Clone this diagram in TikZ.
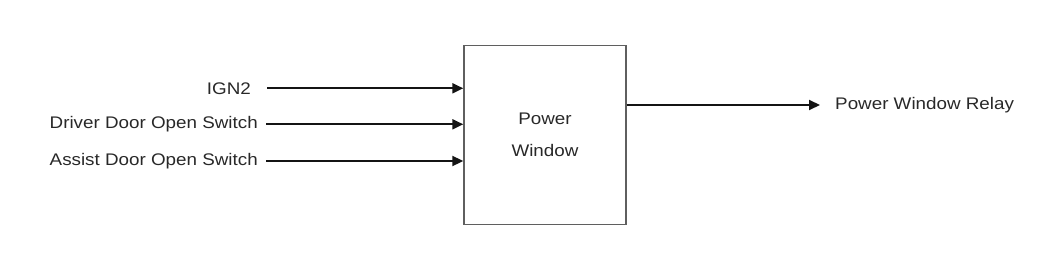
\documentclass[tikz,border=0pt]{standalone}
\usepackage{fontspec}
\usepackage{graphicx}
\setmainfont{Liberation Sans}
\usetikzlibrary{arrows.meta,positioning}
\definecolor{wireink}{RGB}{20,20,20}
\definecolor{boxgray}{RGB}{95,95,95}
\definecolor{textgray}{RGB}{40,40,40}
\newcommand{\widen}[1]{\scalebox{1.12}[1]{#1}}
\tikzset{
  block/.style={draw=boxgray,line width=1.4pt,minimum width=162pt,
    minimum height=179pt,align=center,inner sep=0pt,text=textgray,
    font=\fontsize{16.8}{32}\selectfont},
  sig/.style={-{Triangle[length=11pt,width=10pt]},line width=2pt,draw=wireink},
  lab/.style={font=\fontsize{16.8}{20}\selectfont,inner sep=0pt,text=textgray}
}
\begin{document}
\begin{tikzpicture}[x=1pt,y=-1pt]
  \useasboundingbox (0,0) rectangle (1050,262);
  \node[block] (pw) at (545,135) {\widen{Power}\\\widen{Window}};
  \node[lab,anchor=east] (ign) at (251,88.3) {\widen{IGN2}};
  \node[lab,anchor=east] (drv) at (258,124.3) {\widen{Driver Door Open Switch}};
  \node[lab,anchor=east] (ast) at (258,161) {\widen{Assist Door Open Switch}};
  \node[lab,anchor=west] (relay) at (835,105) {\widen{Power Window Relay}};
  \draw[sig,shorten <=16pt] (ign.east) -- (ign.east -| pw.west);
  \draw[sig,shorten <=8pt] (drv.east) -- (drv.east -| pw.west);
  \draw[sig,shorten <=8pt] (ast.east) -- (ast.east -| pw.west);
  \draw[sig,shorten >=15pt] (pw.east |- relay.west) -- (relay.west);
\end{tikzpicture}
\end{document}
